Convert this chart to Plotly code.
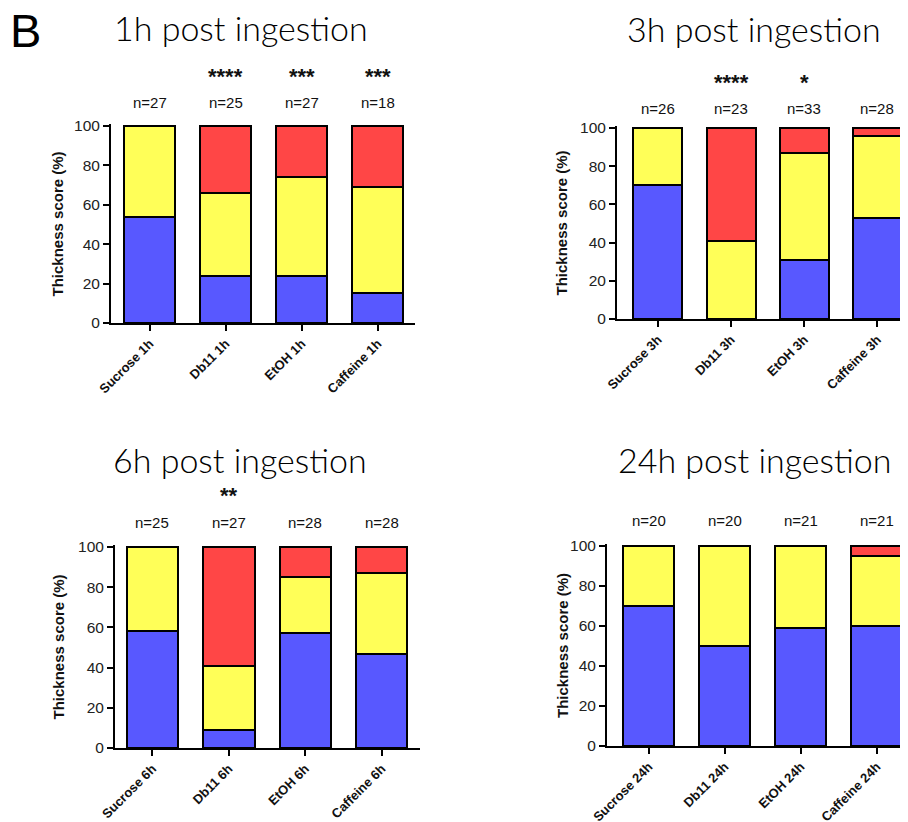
import plotly.graph_objects as go

# ---- data ----
titles = ['1h post ingestion', '3h post ingestion', '6h post ingestion', '24h post ingestion']

cats_1h = ['Sucrose 1h', 'Db11 1h', 'EtOH 1h', 'Caffeine 1h']
cats_3h = ['Sucrose 3h', 'Db11 3h', 'EtOH 3h', 'Caffeine 3h']
cats_6h = ['Sucrose 6h', 'Db11 6h', 'EtOH 6h', 'Caffeine 6h']
cats_24h = ['Sucrose 24h', 'Db11 24h', 'EtOH 24h', 'Caffeine 24h']

# thickness score segments (% of flies): blue / yellow / red
blue_1h = [54, 24, 24, 15]
yellow_1h = [46, 42, 50, 54]
red_1h = [0, 34, 26, 31]

blue_3h = [70, 0, 31, 53]
yellow_3h = [30, 41, 56, 43]
red_3h = [0, 59, 13, 4]

blue_6h = [58, 9, 57, 47]
yellow_6h = [42, 32, 28, 40]
red_6h = [0, 59, 15, 13]

blue_24h = [70, 50, 59, 60]
yellow_24h = [30, 50, 41, 35]
red_24h = [0, 0, 0, 5]

n_1h = ['n=27', 'n=25', 'n=27', 'n=18']
n_3h = ['n=26', 'n=23', 'n=33', 'n=28']
n_6h = ['n=25', 'n=27', 'n=28', 'n=28']
n_24h = ['n=20', 'n=20', 'n=21', 'n=21']

stars_1h = ['', '****', '***', '***']
stars_3h = ['', '****', '*', '']
stars_6h = ['', '**', '', '']
stars_24h = ['', '', '', '']

yticks = [0, 20, 40, 60, 80, 100]

# ---- layout in pixels (page coords; page body has an 8px margin) ----
OFF = 8
W, H = 908 - OFF, 822 - OFF
BLUE, YELLOW, RED = '#5858FF', '#FFFF58', '#FF4646'
ARIAL = 'Liberation Sans, Arial, sans-serif'

# left, right, y(0), y(100), x range, title y, n y, star y, ytitle x
panels = [
    dict(cats=cats_1h, segs=[blue_1h, yellow_1h, red_1h], n=n_1h, stars=stars_1h,
         box=(111, 415, 323, 126), xr=[-0.51, 3.49], ty=28, tx=241, ny=103, sy=76, yt=57),
    dict(cats=cats_3h, segs=[blue_3h, yellow_3h, red_3h], n=n_3h, stars=stars_3h,
         box=(617, 908, 319, 128), xr=[-0.56, 3.42], ty=28.5, tx=754, ny=108, sy=83, yt=561),
    dict(cats=cats_6h, segs=[blue_6h, yellow_6h, red_6h], n=n_6h, stars=stars_6h,
         box=(115, 420, 748, 547), xr=[-0.49, 3.5], ty=459, tx=240, ny=522, sy=495, yt=58),
    dict(cats=cats_24h, segs=[blue_24h, yellow_24h, red_24h], n=n_24h, stars=stars_24h,
         box=(607, 908, 746, 546), xr=[-0.55, 3.41], ty=459, tx=754, ny=520, sy=495, yt=562),
]


def px(x):
    return (x - OFF) / W


def py(y):
    return 1 - (y - OFF) / H


fig = go.Figure()
annotations = []
layout = {}

for i, p in enumerate(panels):
    k = '' if i == 0 else str(i + 1)
    left, right, y0, y100 = p['box']
    top = y100 - (y0 - y100) * 0.01
    xs = list(range(len(p['cats'])))
    for vals, col in zip(p['segs'], [BLUE, YELLOW, RED]):
        fig.add_trace(go.Bar(
            x=xs, y=vals, width=0.67,
            marker=dict(color=col, line=dict(color='black', width=2)),
            xaxis='x' + k, yaxis='y' + k, showlegend=False,
        ))
    layout['xaxis' + k] = dict(
        domain=[px(left), min(px(right), 1)], anchor='y' + k, range=p['xr'],
        tickvals=xs, ticktext=p['cats'], tickangle=-45, automargin=False,
        tickfont=dict(family=ARIAL, size=13, color='#111', weight='bold'),
        showline=True, linewidth=2, linecolor='black',
        ticks='outside', ticklen=6, tickwidth=2, tickcolor='black',
        showgrid=False, zeroline=False, fixedrange=True,
    )
    layout['yaxis' + k] = dict(
        domain=[py(y0), py(top)], anchor='x' + k, range=[0, 101], automargin=False,
        tickvals=yticks, tickfont=dict(family=ARIAL, size=15.5, color='#222'),
        showline=True, linewidth=2, linecolor='black',
        ticks='outside', ticklen=6, tickwidth=2, tickcolor='black',
        showgrid=False, zeroline=False, fixedrange=True,
    )
    # panel title
    annotations.append(dict(
        text=titles[i], xref='paper', yref='paper', x=px(p['tx']), y=py(p['ty']),
        xanchor='center', yanchor='middle', showarrow=False,
        font=dict(family='Lato, sans-serif', size=34, color='black', weight=300),
    ))
    # y axis title
    annotations.append(dict(
        text='Thickness score (%)', xref='paper', yref='paper', textangle=-90,
        x=px(p['yt']), y=py((y0 + y100) / 2), xanchor='center', yanchor='middle',
        showarrow=False, font=dict(family=ARIAL, size=15, color='#111', weight='bold'),
    ))
    for j, (n, s) in enumerate(zip(p['n'], p['stars'])):
        annotations.append(dict(
            text=n, xref='x' + k, yref='paper', x=j, y=py(p['ny']),
            xanchor='center', yanchor='middle', showarrow=False,
            font=dict(family=ARIAL, size=15, color='#111'),
        ))
        if s:
            annotations.append(dict(
                text=s, xref='x' + k, yref='paper', x=j, y=py(p['sy']),
                xanchor='center', yanchor='middle', showarrow=False,
                font=dict(family=ARIAL, size=22, color='#111', weight='bold'),
            ))

annotations.append(dict(
    text='B', xref='paper', yref='paper', x=px(8), y=py(31),
    xanchor='left', yanchor='middle', showarrow=False,
    font=dict(family=ARIAL, size=47, color='black'),
))

fig.update_layout(
    width=W, height=H,
    margin=dict(l=0, r=0, t=0, b=0, autoexpand=False),
    paper_bgcolor='white', plot_bgcolor='white',
    barmode='stack', showlegend=False,
    annotations=annotations,
    **layout,
)

fig.write_html('out.html')
